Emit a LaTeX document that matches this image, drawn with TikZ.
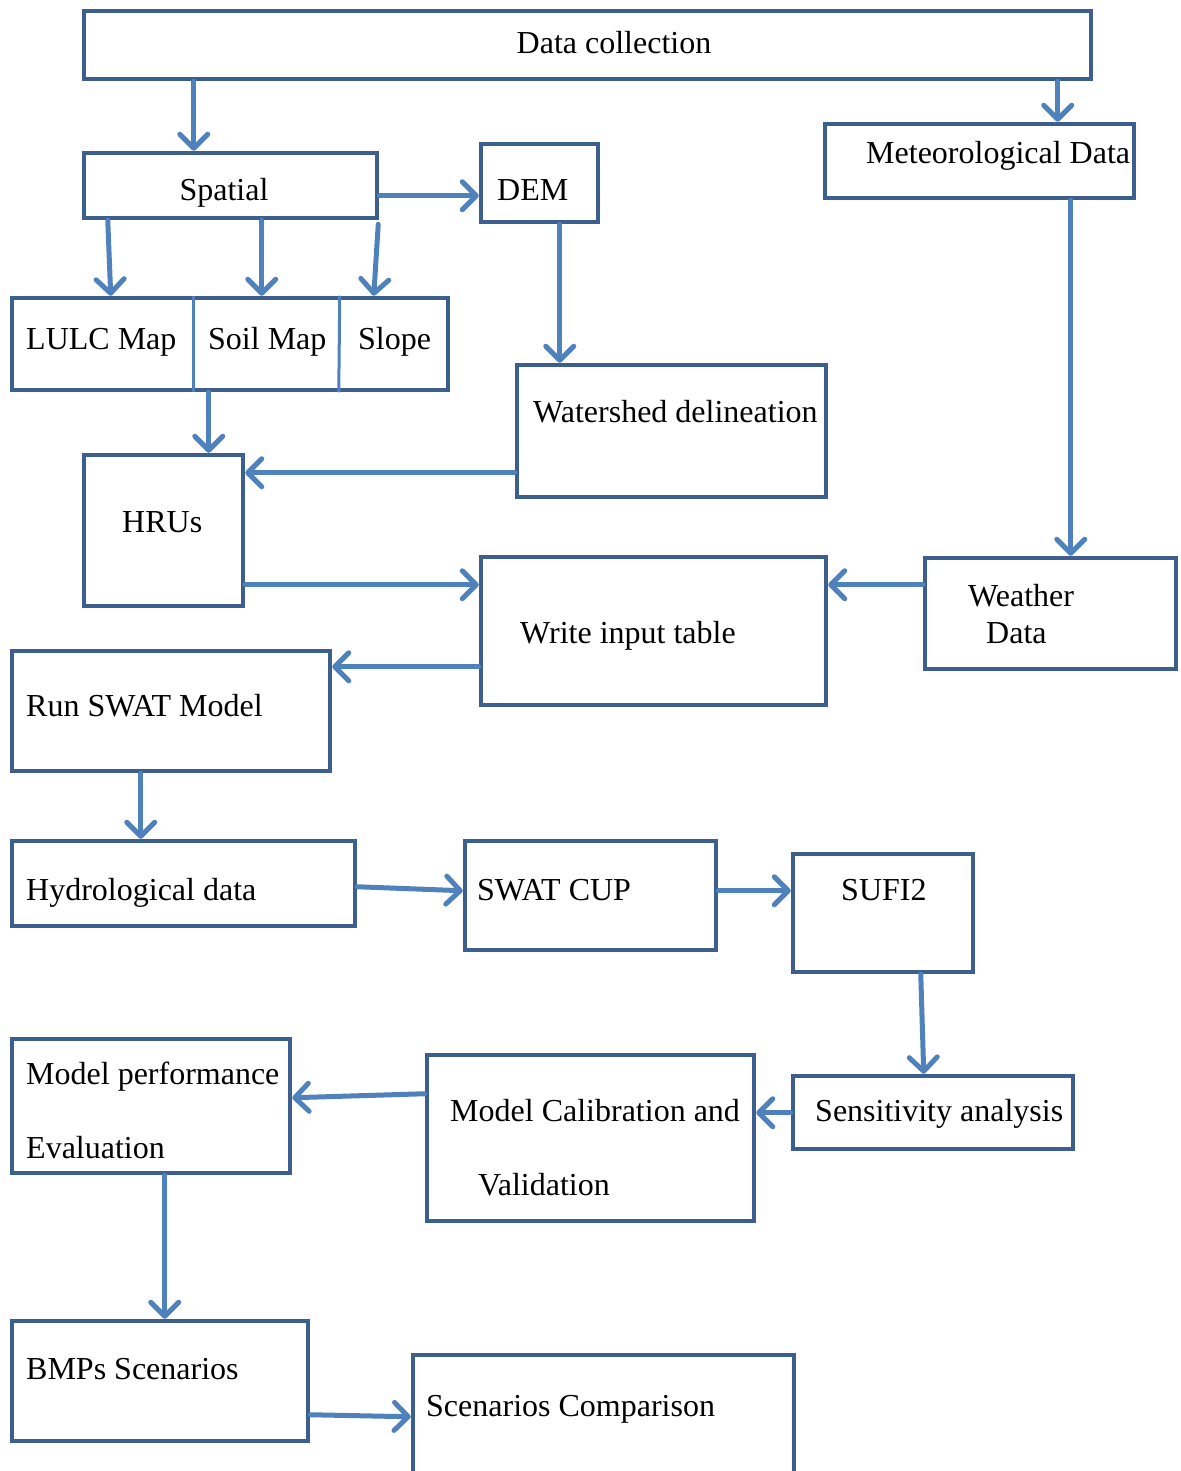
\documentclass[tikz,border=0pt]{standalone}
\usepackage{fontspec}
\setmainfont{Liberation Serif}
\usetikzlibrary{arrows.meta}
\definecolor{boxc}{HTML}{3C5F8E}
\definecolor{arrc}{HTML}{4F81BD}
\tikzset{
  box/.style={draw=boxc, line width=4.5pt, rectangle, inner sep=0pt},
  arr/.style={draw=arrc, line width=5pt, line cap=round,
     -{Straight Barb[length=14pt, width=28pt, line width=5pt, round]}},
  lbl/.style={inner sep=0pt, font=\fontsize{32}{38}\selectfont},
  divider/.style={draw=arrc, line width=3pt}
}
\newcommand{\mybx}[5]{\node[box, minimum width={#4-#2}, minimum height={#5-#3}] (#1) at ({(#2+#4)/2},{(#3+#5)/2}) {};}
\begin{document}
\begin{tikzpicture}[x=1pt,y=-1pt]
\useasboundingbox (0,0) rectangle (1180,1471);
\clip (0,0) rectangle (1180,1471);
\mybx{data}{84}{11}{1091}{79}
\mybx{spatial}{84}{153}{377}{218}
\mybx{dem}{481}{144}{598}{222}
\mybx{met}{825}{124}{1134}{198}
\mybx{maps}{12}{298}{448}{390}
\mybx{ws}{517}{365}{826}{497}
\mybx{hrus}{84}{455}{243}{606}
\mybx{wit}{481}{557}{826}{705}
\mybx{weather}{925}{558}{1176}{669}
\mybx{run}{12}{651}{330}{771}
\mybx{hyd}{12}{841}{355}{926}
\mybx{cup}{465}{841}{716}{950}
\mybx{sufi}{793}{854}{973}{972}
\mybx{sens}{793}{1076}{1073}{1149}
\mybx{cal}{427}{1055}{754}{1221}
\mybx{perf}{12}{1039}{290}{1173}
\mybx{bmp}{12}{1321}{308}{1441}
\mybx{comp}{413}{1355}{794}{1500}

\draw[divider] ([xshift=184]maps.north west) -- ([xshift=184]maps.south west);
\draw[divider] ([xshift=330]maps.north west) -- ([xshift=329]maps.south west);

\node[lbl, anchor=base] (tdata) at (614,54) {Data collection};
\node[lbl, anchor=base] (tspatial) at (224,201) {Spatial};
\node[lbl, anchor=base west] (tdem) at (497,201) {DEM};
\node[lbl, anchor=base west] (tmet) at (866,164) {Meteorological Data};
\node[lbl, anchor=base west] (tlulc) at (26,349) {LULC Map};
\node[lbl, anchor=base west] (tsoil) at (208,349) {Soil Map};
\node[lbl, anchor=base west] (tslope) at (358,349) {Slope};
\node[lbl, anchor=base west] (tws) at (533,422) {Watershed delineation};
\node[lbl, anchor=base west] (thrus) at (122,532) {HRUs};
\node[lbl, anchor=base west] (twit) at (520,643) {Write input table};
\node[lbl, anchor=base west] (tweather1) at (968,606) {Weather};
\node[lbl, anchor=base west] (tweather2) at (986,643) {Data};
\node[lbl, anchor=base west] (trun) at (26,716) {Run SWAT Model};
\node[lbl, anchor=base west] (thyd) at (26,900) {Hydrological data};
\node[lbl, anchor=base west] (tcup) at (477,900) {SWAT CUP};
\node[lbl, anchor=base west] (tsufi) at (841,900) {SUFI2};
\node[lbl, anchor=base west] (tsens) at (815,1121) {Sensitivity analysis};
\node[lbl, anchor=base west] (tcal1) at (450,1121) {Model Calibration and};
\node[lbl, anchor=base west] (tcal2) at (478,1195) {Validation};
\node[lbl, anchor=base west] (tperf1) at (26,1084) {Model performance};
\node[lbl, anchor=base west] (tperf2) at (26,1158) {Evaluation};
\node[lbl, anchor=base west] (tbmp) at (26,1379) {BMPs Scenarios};
\node[lbl, anchor=base west] (tcomp) at (426,1416) {Scenarios Comparison};

\draw[arr] ([xshift=112]data.south west) -- ([xshift=112]spatial.north west);
\draw[arr] ([xshift=976]data.south west) -- ([xshift=235]met.north west);
\draw[arr] ([yshift=-45]spatial.north east) -- ([yshift=-54]dem.north west);
\draw[arr] ([xshift=26]spatial.south west) -- ([xshift=101]maps.north west);
\draw[arr] ([xshift=180]spatial.south west) -- ([xshift=252]maps.north west);
\draw[arr] ([xshift=-1,yshift=-4]spatial.south east) -- ([xshift=364]maps.north west);
\draw[arr] ([xshift=81]dem.south west) -- ([xshift=45]ws.north west);
\draw[arr] ([xshift=199]maps.south west) -- ([xshift=127]hrus.north west);
\draw[arr] ([yshift=-110]ws.north west) -- ([yshift=-20]hrus.north east);
\draw[arr] ([xshift=248]met.south west) -- ([xshift=148]weather.north west);
\draw[arr] ([yshift=-132]hrus.north east) -- ([yshift=-30]wit.north west);
\draw[arr] ([yshift=-29]weather.north west) -- ([yshift=-30]wit.north east);
\draw[arr] ([yshift=-112]wit.north west) -- ([yshift=-18]run.north east);
\draw[arr] ([xshift=131]run.south west) -- ([xshift=131]hyd.north west);
\draw[arr] ([yshift=-48]hyd.north east) -- ([yshift=-52]cup.north west);
\draw[arr] ([yshift=-52]cup.north east) -- ([yshift=-39]sufi.north west);
\draw[arr] ([xshift=130]sufi.south west) -- ([xshift=133]sens.north west);
\draw[arr] ([yshift=-39]sens.north west) -- ([yshift=-60]cal.north east);
\draw[arr] ([yshift=-41]cal.north west) -- ([yshift=-61]perf.north east);
\draw[arr] ([xshift=155]perf.south west) -- ([xshift=155]bmp.north west);
\draw[arr] ([yshift=-96]bmp.north east) -- ([yshift=-64]comp.north west);
\end{tikzpicture}
\end{document}
